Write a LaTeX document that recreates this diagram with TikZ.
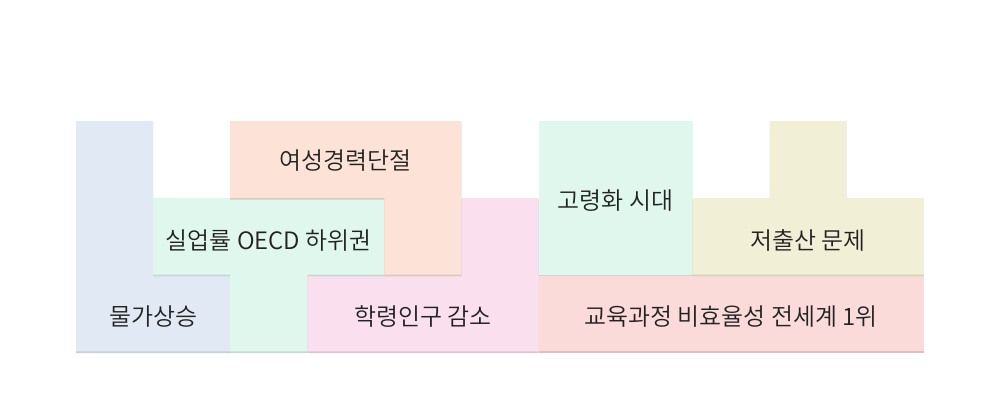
\documentclass[tikz,border=0pt]{standalone}
\usepackage{fontspec}
\setmainfont{Noto Sans CJK KR}[UprightFont=* DemiLight]
\usepackage{tikz}
\usetikzlibrary{positioning}
\usepackage{xcolor}
\definecolor{issueBlue}{HTML}{E1EAF4}
\definecolor{issueMint}{HTML}{E0F7EE}
\definecolor{issuePeach}{HTML}{FDE2D8}
\definecolor{issuePink}{HTML}{FAE0EF}
\definecolor{issueOlive}{HTML}{F1EFD5}
\definecolor{issueRed}{HTML}{FBDADA}
\definecolor{issueInk}{HTML}{222222}
\tikzset{
  block/.style={fill=#1,preaction={fill=#1!88!black,transform canvas={yshift=-0.045cm}}},
  label/.style={font=\fontsize{17pt}{20pt}\selectfont,text=issueInk,inner sep=0pt}
}

\begin{document}
\begin{tikzpicture}[x=1.925cm,y=-1.9167cm]
\useasboundingbox (-0.987,-1.578) rectangle (11.987,3.639);
% blocks, back to front
\fill[block=issueBlue] (0,0) -- (1,0) -- (1,2) -- (2,2) -- (2,3) -- (0,3) -- cycle;
\fill[block=issuePink] (5,1) -- (6,1) -- (6,3) -- (3,3) -- (3,2) -- (5,2) -- cycle;
\fill[block=issueMint] (1,1) -- (4,1) -- (4,2) -- (3,2) -- (3,3) -- (2,3) -- (2,2) -- (1,2) -- cycle;
\fill[block=issuePeach] (2,0) -- (5,0) -- (5,2) -- (4,2) -- (4,1) -- (2,1) -- cycle;
\fill[block=issueRed] (6,2) rectangle (11,3);
\fill[block=issueMint] (6,0) rectangle (8,2);
\fill[block=issueOlive] (9,0) -- (10,0) -- (10,1) -- (11,1) -- (11,2) -- (8,2) -- (8,1) -- (9,1) -- cycle;
% labels
\node[label] (price) at (1,2.55) {물가상승};
\node[label] (jobless) at (2.5,1.55) {실업률 OECD 하위권};
\node[label] (career) at (3.5,0.52) {여성경력단절};
\node[label] (school) at (4.5,2.55) {학령인구 감소};
\node[label] (aging) at (7,1.03) {고령화 시대};
\node[label] (birth) at (9.5,1.55) {저출산 문제};
\node[label] (edu) at (8.5,2.55) {교육과정 비효율성 전세계 1위};
\end{tikzpicture}
\end{document}
